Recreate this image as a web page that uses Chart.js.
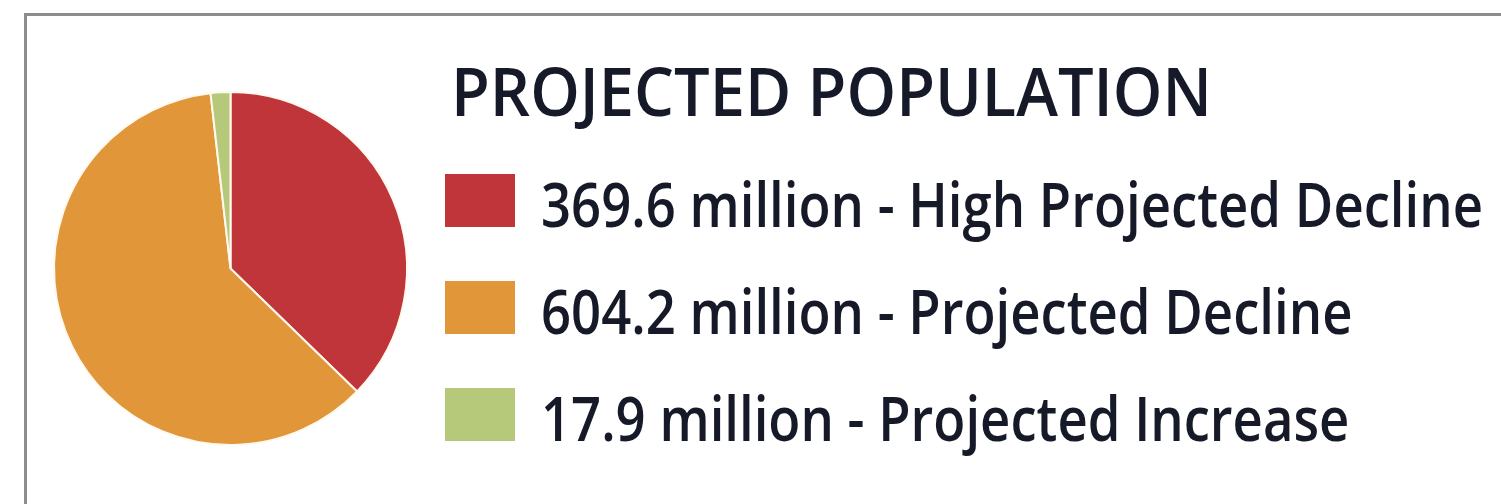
<!DOCTYPE html>
<html>
<head>
<meta charset="utf-8">
<title>Projected Population</title>
<script src="https://cdn.jsdelivr.net/npm/chart.js@4.4.1/dist/chart.umd.min.js"></script>
<style>
  html, body { margin: 0; padding: 0; background: #fff; overflow: hidden; }
  #frame { position: absolute; left: 24px; top: 13px; width: 2000px; height: 1000px; border: 3px solid #8d8d8d; }
  #chart { position: absolute; left: 0; top: 0; }
</style>
</head>
<body>
<div id="frame"></div>
<canvas id="chart" width="1501" height="504"></canvas>
<script>
// data
const title = "PROJECTED POPULATION";
const categories = ["High Projected Decline", "Projected Decline", "Projected Increase"];
const population = [369.6, 604.2, 17.9]; // millions
const colors = ["#c0353a", "#e1963a", "#b6c97b"];

// "369.6 million - High Projected Decline" etc.
const legendLabels = categories.map((c, i) => population[i] + " million - " + c);

// draw text squeezed/stretched horizontally (narrow humanist look)
function fitText(ctx, text, x, y, sx) {
  ctx.save();
  ctx.translate(x, y);
  ctx.scale(sx, 1);
  ctx.fillText(text, 0, 0);
  ctx.restore();
}

// legend + title on the right side of the pie
const sideLegend = {
  id: 'sideLegend',
  afterDraw(chart) {
    const ctx = chart.ctx;
    const ds = chart.data.datasets[0];
    ctx.save();
    ctx.fillStyle = '#161a28';
    ctx.textBaseline = 'alphabetic';

    ctx.font = '600 67px "Open Sans"';
    let sx = 761 / ctx.measureText(title).width;
    fitText(ctx, title, 451, 116, sx);

    ctx.font = '600 62px "Open Sans"';
    sx = 942 / ctx.measureText(legendLabels[0]).width;
    legendLabels.forEach((txt, i) => {
      const top = 174 + i * 107;
      ctx.fillStyle = ds.backgroundColor[i];
      ctx.fillRect(445, top, 70, 53);
      ctx.fillStyle = '#161a28';
      fitText(ctx, txt, 541, top + 53, sx);
    });
    ctx.restore();
  }
};

new Chart(document.getElementById('chart'), {
  type: 'pie',
  data: {
    labels: categories,
    datasets: [{
      data: population,
      backgroundColor: colors,
      borderColor: '#fffaf0',
      borderWidth: 2
    }]
  },
  options: {
    responsive: false,
    animation: false,
    layout: { padding: { left: 53, top: 90, right: 1093, bottom: 57 } },
    plugins: {
      legend: { display: false },
      tooltip: { enabled: false }
    }
  },
  plugins: [sideLegend]
});
</script>
</body>
</html>
